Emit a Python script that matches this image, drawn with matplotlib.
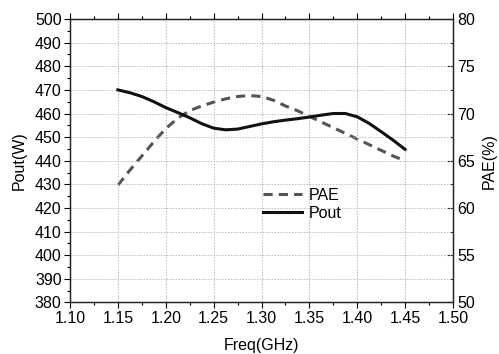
import matplotlib
matplotlib.use("Agg")
import matplotlib.pyplot as plt
from matplotlib.ticker import MultipleLocator

plt.rcParams['font.family'] = ['Liberation Sans', 'DejaVu Sans']

freq_pout = [1.15, 1.1625, 1.175, 1.1875, 1.20, 1.2125, 1.225, 1.2375, 1.25, 1.2625, 1.275, 1.2875,
             1.30, 1.3125, 1.325, 1.3375, 1.35, 1.3625, 1.375, 1.3875, 1.40, 1.4125, 1.425, 1.4375, 1.45]
pout = [470.0, 468.8, 467.2, 465.0, 462.5, 460.4, 458.2, 455.7, 453.8, 453.1, 453.4, 454.5,
        455.6, 456.5, 457.2, 457.8, 458.5, 459.3, 460.0, 460.0, 458.6, 455.8, 452.3, 448.7, 444.8]

freq_pae = [1.15, 1.1625, 1.175, 1.1875, 1.20, 1.2125, 1.225, 1.2375, 1.25, 1.2625, 1.275, 1.2875,
            1.30, 1.3125, 1.325, 1.3375, 1.35, 1.3625, 1.375, 1.3875, 1.40, 1.4125, 1.425, 1.4375, 1.45]
pae = [62.4, 64.0, 65.5, 67.0, 68.4, 69.5, 70.3, 70.8, 71.2, 71.55, 71.8, 71.9,
       71.8, 71.4, 70.8, 70.3, 69.7, 69.1, 68.5, 67.9, 67.3, 66.7, 66.1, 65.5, 65.0]

fig = plt.figure(figsize=(4.99, 3.54), dpi=100)
ax = fig.add_axes([0.1403, 0.1455, 0.7675, 0.8008])
ax2 = ax.twinx()

ax.set_xlim(1.10, 1.50)
ax.set_ylim(380, 500)
ax2.set_ylim(50, 80)

ax.grid(True, which='major', color='#bbbbbb', linestyle=(0, (1.5, 1.5)), linewidth=0.7)
ax.set_axisbelow(True)

l1, = ax2.plot(freq_pae, pae, color='#555555', linestyle=(0, (3.0, 2.0)), linewidth=2.2, label='PAE')
l2, = ax.plot(freq_pout, pout, color='#111111', linewidth=2.2, label='Pout')
ax.set_zorder(ax2.get_zorder() + 1)
ax.patch.set_visible(False)

ax.xaxis.set_major_locator(MultipleLocator(0.05))
ax.xaxis.set_minor_locator(MultipleLocator(0.025))
ax.yaxis.set_major_locator(MultipleLocator(10))
ax.yaxis.set_minor_locator(MultipleLocator(5))
ax2.yaxis.set_major_locator(MultipleLocator(5))
ax2.yaxis.set_minor_locator(MultipleLocator(2.5))
ax.xaxis.set_major_formatter(plt.FuncFormatter(lambda v, p: f"{v:.2f}"))

fs = 11.5
ax.tick_params(axis='both', which='major', direction='out', length=4, width=0.8, labelsize=fs, pad=2)
ax.tick_params(axis='both', which='minor', direction='out', length=2.5, width=0.8)
ax.tick_params(axis='x', which='both', top=True)
ax2.tick_params(axis='y', which='major', direction='in', length=4, width=0.8, labelsize=fs, pad=3)
ax2.tick_params(axis='y', which='minor', direction='in', length=2.5, width=0.8)

for a in (ax, ax2):
    for s in a.spines.values():
        s.set_linewidth(0.9)
        s.set_color('#222222')

ax.set_xlabel('Freq(GHz)', fontsize=fs, labelpad=9)
ax.set_ylabel('Pout(W)', fontsize=fs, labelpad=6)
ax2.set_ylabel('PAE(%)', fontsize=fs, rotation=90, labelpad=5)

ax.legend([l1, l2], ['PAE', 'Pout'], loc='upper left', bbox_to_anchor=(0.505, 0.405),
          frameon=False, fontsize=fs, handlelength=2.4, handletextpad=0.45,
          labelspacing=0.2, borderpad=0.0, borderaxespad=0.0)

fig.savefig('out.png', dpi=100)
